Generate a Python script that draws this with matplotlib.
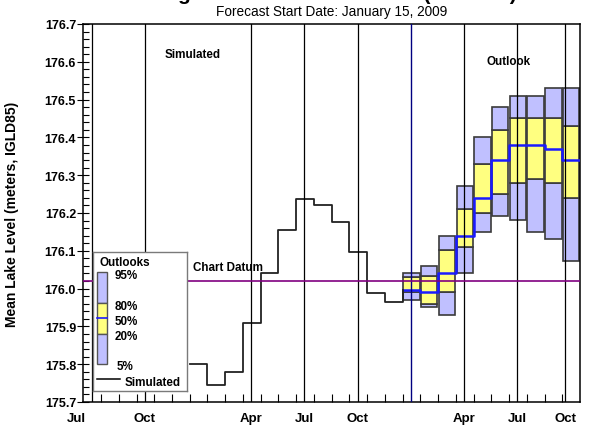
import numpy as np
import matplotlib
matplotlib.use("Agg")
import matplotlib.pyplot as plt
from matplotlib.patches import Rectangle
from matplotlib.ticker import FixedLocator, MultipleLocator
from matplotlib.transforms import ScaledTranslation

plt.rcParams['font.family'] = ['Liberation Sans', 'DejaVu Sans']

# simulated monthly mean levels (m, IGLD85)
sim_months = ["2008-01", "2008-02", "2008-03", "2008-04", "2008-05", "2008-06",
              "2008-07", "2008-08", "2008-09", "2008-10", "2008-11", "2008-12"]
sim_level = [175.80, 175.744, 175.78, 175.91, 176.04, 176.155,
             176.237, 176.222, 176.175, 176.098, 175.989, 175.965]

# outlook percentiles per month
out_months = ["2009-01", "2009-02", "2009-03", "2009-04", "2009-05",
              "2009-06", "2009-07", "2009-08", "2009-09", "2009-10"]
p95 = [176.042, 176.061, 176.140, 176.271, 176.400, 176.480, 176.510, 176.510, 176.530, 176.530]
p80 = [176.031, 176.034, 176.101, 176.211, 176.330, 176.420, 176.451, 176.451, 176.451, 176.431]
p50 = [175.996, 175.991, 176.042, 176.140, 176.241, 176.341, 176.381, 176.381, 176.370, 176.341]
p20 = [175.990, 175.960, 175.991, 176.110, 176.200, 176.251, 176.280, 176.290, 176.280, 176.241]
p5 = [175.971, 175.951, 175.931, 176.042, 176.151, 176.192, 176.182, 176.151, 176.132, 176.072]

chart_datum = 176.02
forecast_start = "2009-01-15"

grid_dates = ["2007-07-15", "2007-10-15", "2008-04-15", "2008-07-15",
              "2008-10-15", "2009-04-15", "2009-07-15", "2009-10-06"]
grid_labels = ["Jul", "Oct", "Apr", "Jul", "Oct", "Apr", "Jul", "Oct"]

LAV = "#c0c0ff"
YEL = "#ffff80"
BLUE = "#1a1aff"


def mpos(s):
    """Month position counted from Jul 1 2007."""
    parts = [int(p) for p in s.split("-")]
    m = (parts[0] - 2007) * 12 + parts[1] - 7
    if len(parts) == 3:
        m += (parts[2] - 1) / 30.0
    return m


fig = plt.figure(figsize=(5.89, 4.31), dpi=100)
ax = fig.add_axes([83.3 / 589, 1 - 403 / 431, (580 - 83.3) / 589, (403 - 25) / 431])

# outlook boxes
for i, mo in enumerate(out_months):
    x0 = mpos(mo) + 0.04
    w = 0.92
    ax.add_patch(Rectangle((x0, p5[i]), w, p20[i] - p5[i], fc=LAV, ec="#3a3a3a", lw=1.2, zorder=2))
    ax.add_patch(Rectangle((x0, p20[i]), w, p80[i] - p20[i], fc=YEL, ec="#3a3a3a", lw=1.2, zorder=2))
    ax.add_patch(Rectangle((x0, p80[i]), w, p95[i] - p80[i], fc=LAV, ec="#3a3a3a", lw=1.2, zorder=2))

# median as a step line
xm = [mpos(m) for m in out_months] + [mpos(out_months[-1]) + 1]
ax.step(xm, p50 + [p50[-1]], where="post", color=BLUE, lw=1.8, zorder=3)

# simulated levels, stepping into the first outlook median
xs = [mpos(m) for m in sim_months] + [mpos(out_months[0])]
ax.step(xs, sim_level + [p50[0]], where="post", color="#222222", lw=1.3, zorder=3)

# seasonal grid lines and forecast start
for d in grid_dates:
    ax.axvline(mpos(d), color="black", lw=0.9, zorder=4)
ax.axvline(mpos(forecast_start), color="#000080", lw=1.0, zorder=4)
ax.axhline(chart_datum, color="#800080", lw=1.2, zorder=4)

ax.set_xlim(0, 28)
ax.set_ylim(175.7, 176.7)

ax.yaxis.set_major_locator(MultipleLocator(0.1))
ax.yaxis.set_minor_locator(MultipleLocator(0.02))
ax.yaxis.set_major_formatter(plt.FuncFormatter(lambda v, p: f"{v:.1f}"))
ax.tick_params(axis="y", which="major", direction="inout", length=8.4, width=0.8,
               labelsize=9, pad=1)
ax.tick_params(axis="y", which="minor", direction="in", length=4.3, width=0.8)

ax.xaxis.set_major_locator(FixedLocator([mpos(d) for d in grid_dates]))
ax.set_xticklabels(grid_labels)
ax.xaxis.set_minor_locator(FixedLocator(np.arange(1, 28)))
ax.tick_params(axis="x", which="major", length=0, labelsize=9.5, pad=7)
ax.tick_params(axis="x", which="minor", direction="in", length=5.5, width=0.8)
for lbl in ax.get_xticklabels() + ax.get_yticklabels():
    lbl.set_fontweight("bold")
first = ax.get_xticklabels()[0]
first.set_transform(first.get_transform() + ScaledTranslation(-0.15, 0, fig.dpi_scale_trans))

for sp in ax.spines.values():
    sp.set_linewidth(1.1)

ax.set_ylabel("Mean Lake Level (meters, IGLD85)", fontsize=10, fontweight="bold")
ax.yaxis.set_label_coords(-0.13, 0.5)

ax.text(6.16, 176.62, "Simulated", ha="center", va="center", fontsize=8.4, fontweight="bold")
ax.text(23.98, 176.602, "Outlook", ha="center", va="center", fontsize=8.4, fontweight="bold")
ax.text(8.16, 176.058, "Chart Datum", ha="center", va="center", fontsize=8.4, fontweight="bold")

fig.text(331.6 / 589, 1 - 12 / 431, "Forecast Start Date: January 15, 2009",
         ha="center", va="center", fontsize=9.8)
fig.text(294 / 589, 1.0, "Lake Michigan-Huron Water Levels (Outlook)",
         ha="center", va="baseline", fontsize=15, fontweight="bold")

# legend panel, laid out in its own pixel units
lax = fig.add_axes([92.7 / 589, 1 - 392.3 / 431, (187.3 - 92.7) / 589, (392.3 - 252.7) / 431])
lax.set_xlim(0, 94.6)
lax.set_ylim(139.6, 0)
lax.set_xticks([])
lax.set_yticks([])
for sp in lax.spines.values():
    sp.set_color("#7a7a7a")
    sp.set_linewidth(1.0)
lax.set_zorder(10)
lax.add_patch(Rectangle((4.6, 20.6), 10, 31, fc=LAV, ec="#555555", lw=1))
lax.add_patch(Rectangle((4.6, 51.6), 10, 30.7, fc=YEL, ec="#555555", lw=1))
lax.add_patch(Rectangle((4.6, 82.3), 10, 30, fc=LAV, ec="#555555", lw=1))
lax.plot([4.6, 14.6], [66.6, 66.6], color=BLUE, lw=1.2)
lax.text(7.3, 10, "Outlooks", fontsize=8.4, fontweight="bold", va="center")
for txt, yy, xx in [("95%", 23.5, 21.6), ("80%", 54, 21.6), ("50%", 69, 21.6),
                    ("20%", 84.6, 21.6), ("5%", 114.6, 24)]:
    lax.text(xx, yy, txt, fontsize=8.4, fontweight="bold", va="center")
lax.plot([4.6, 27.3], [127.3, 127.3], color="black", lw=1.1)
lax.text(32.3, 130, "Simulated", fontsize=8.4, fontweight="bold", va="center")

fig.savefig("out.png", dpi=100)
